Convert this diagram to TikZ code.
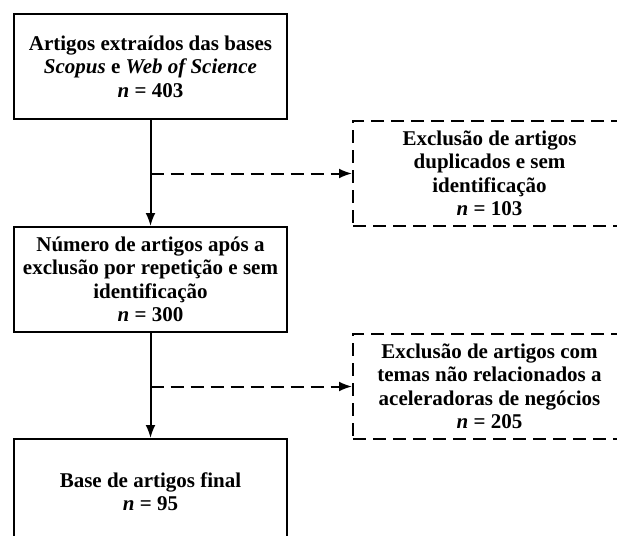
\documentclass[tikz,border=0pt]{standalone}
\usepackage{fontspec}
\setmainfont{Liberation Serif}
\usetikzlibrary{positioning, arrows.meta}

\begin{document}
\begin{tikzpicture}[>={Latex[length=13pt,width=10pt]}, line width=2pt, x=1pt, y=-1pt, node distance=106pt]
\tikzstyle{every node}=[font=\fontsize{21pt}{23.5pt}\selectfont\bfseries, align=center, inner sep=0pt]
\tikzstyle{box}=[draw, minimum width=273pt, minimum height=105pt]
\tikzstyle{excl}=[box, dash pattern=on 13pt off 7pt]
\tikzstyle{skip}=[->, dash pattern=on 13pt off 7pt]

\useasboundingbox (0,0) rectangle (617,535);
\clip (0,0) rectangle (617,535);

\node[box] (src) at (150.5,66.5) {Artigos extraídos das bases\\\textit{Scopus} e \textit{Web of Science}\\\textit{n} = 403};
\node[box] (rep) [below=of src] {Número de artigos após a\\exclusão por repetição e sem\\identificação\\\textit{n} = 300};
\node[box] (final) [below=105pt of rep] {Base de artigos final\\\textit{n} = 95};

\node[excl] (dup) [right=64pt of src.south east, anchor=north west] {Exclusão de artigos\\duplicados e sem\\identificação\\\textit{n} = 103};
\node[excl] (tema) [right=64pt of rep.south east, anchor=north west] {Exclusão de artigos com\\temas não relacionados a\\aceleradoras de negócios\\\textit{n} = 205};

\draw[->] (src) -- (rep);
\draw[->] (rep) -- (final);
\draw[skip] (src.south |- dup.west) -- (dup.west);
\draw[skip] (rep.south |- tema.west) -- (tema.west);

\end{tikzpicture}
\end{document}
